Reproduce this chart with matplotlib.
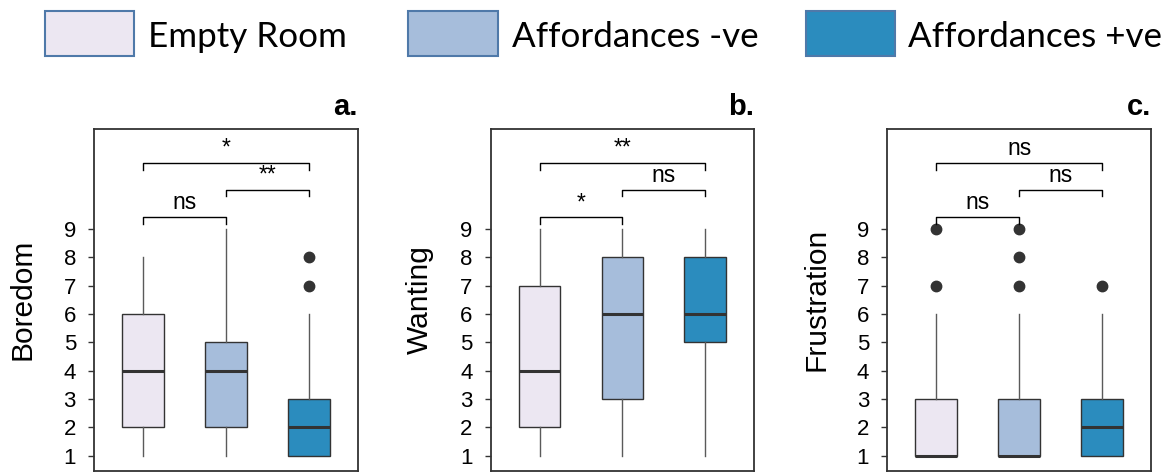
import matplotlib
matplotlib.use("Agg")
import matplotlib.pyplot as plt
from matplotlib.patches import Rectangle

plt.rcParams['font.family'] = ['Liberation Sans', 'DejaVu Sans']

# ---------------- data ----------------
groups = ["Empty Room", "Affordances -ve", "Affordances +ve"]
fill_colors = ["#ECE7F2", "#A6BDDB", "#2B8CBE"]

panel_letters = ["a.", "b.", "c."]
ylabels = ["Boredom", "Wanting", "Frustration"]
yticks = [1, 2, 3, 4, 5, 6, 7, 8, 9]

# five-number summaries per panel: (whislo, q1, med, q3, whishi)
boredom = [(1, 2, 4, 6, 8), (1, 2, 4, 5, 9), (1, 1, 2, 3, 6)]
boredom_fliers = [[], [], [7, 8]]
wanting = [(1, 2, 4, 7, 9), (1, 3, 6, 8, 9), (1, 5, 6, 8, 9)]
wanting_fliers = [[], [], []]
frustration = [(1, 1, 1, 3, 6), (1, 1, 1, 3, 6), (1, 1, 2, 3, 6)]
frustration_fliers = [[7, 9], [7, 8, 9], [7]]

# significance brackets: (group i, group j, bracket height, label)
boredom_sig = [(1, 2, 9.41, "ns"), (2, 3, 10.38, "**"), (1, 3, 11.33, "*")]
wanting_sig = [(1, 2, 9.41, "*"), (2, 3, 10.38, "ns"), (1, 3, 11.33, "**")]
frustration_sig = [(1, 2, 9.41, "ns"), (2, 3, 10.38, "ns"), (1, 3, 11.33, "ns")]

panels = [
    (boredom, boredom_fliers, boredom_sig),
    (wanting, wanting_fliers, wanting_sig),
    (frustration, frustration_fliers, frustration_sig),
]

# ---------------- figure ----------------
W, H = 1172, 472
fig = plt.figure(figsize=(W / 100, H / 100), dpi=100)

axes_px = [(94, 358), (490.7, 754), (887.3, 1151)]
top_px, bot_px = 129, 470.5

dark = "#333333"
whisk = "#5a5a5a"

for k, (summ, fl, sig) in enumerate(panels):
    l, r = axes_px[k]
    ax = fig.add_axes([l / W, (H - bot_px) / H, (r - l) / W, (bot_px - top_px) / H])
    stats = []
    for (lo, q1, med, q3, hi), f in zip(summ, fl):
        stats.append(dict(whislo=lo, q1=q1, med=med, q3=q3, whishi=hi, fliers=f))
    bp = ax.bxp(stats, positions=[1, 2, 3], widths=0.5, patch_artist=True,
                showcaps=False,
                boxprops=dict(edgecolor=dark, linewidth=1.0),
                medianprops=dict(color=dark, linewidth=2.2, solid_capstyle='butt'),
                whiskerprops=dict(color=whisk, linewidth=1.0),
                flierprops=dict(marker='o', markerfacecolor=dark, markeredgecolor=dark,
                                markersize=7.5))
    for patch, c in zip(bp['boxes'], fill_colors):
        patch.set_facecolor(c)

    ax.set_xlim(0.41, 3.59)
    ax.set_ylim(0.48, 12.53)
    ax.set_xticks([])
    ax.set_yticks(yticks)
    ax.set_yticklabels([str(t) for t in yticks], fontsize=16)
    ax.tick_params(axis='y', length=4, width=1.0, color=dark, pad=9)
    for s in ax.spines.values():
        s.set_color(dark)
        s.set_linewidth(1.3)

    ax.text(-0.27, 0.5, ylabels[k], rotation=90, ha='center', va='center',
            fontsize=21.5, transform=ax.transAxes)
    ax.text(1.0, 1.04, panel_letters[k], ha='right', va='baseline',
            fontsize=21, fontweight='bold', transform=ax.transAxes)

    for (i, j, h, lab) in sig:
        ax.plot([i, i, j, j], [h - 0.23, h, h, h - 0.23], color='black', lw=1.0)
        ax.text((i + j) / 2, h + 0.12, lab, ha='center', va='bottom', fontsize=16.5)

# ---------------- legend ----------------
legend_patch_px = [(45, 134), (408, 498), (806, 895)]
legend_text_x = [148, 512, 908]
patch_top, patch_bot = 11, 56
for (pl, pr), tx, c, g in zip(legend_patch_px, legend_text_x, fill_colors, groups):
    fig.add_artist(Rectangle((pl / W, (H - patch_bot) / H), (pr - pl) / W,
                             (patch_bot - patch_top) / H, transform=fig.transFigure,
                             facecolor=c, edgecolor="#4f79a9", linewidth=1.5))
    fig.text(tx / W, (H - 47) / H, g, ha='left', va='baseline', fontsize=25.2,
             family=['Lato', 'DejaVu Sans'])

fig.savefig("out.png", dpi=100)
